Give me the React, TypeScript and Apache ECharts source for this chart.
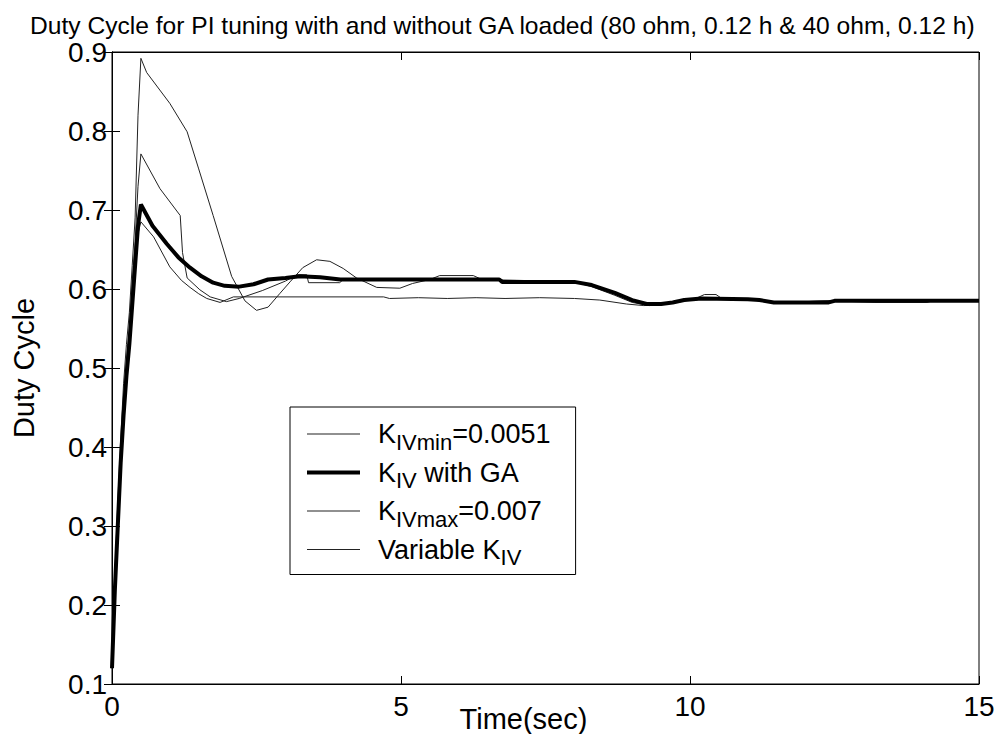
import React, { useEffect, useRef } from "react";
import * as echarts from "echarts";

const titleText =
  "Duty Cycle for PI tuning with and without GA loaded (80 ohm, 0.12 h & 40 ohm, 0.12 h)";
const xName = "Time(sec)";
const yName = "Duty Cycle";

const seriesNames = ["KIVmin=0.0051", "KIV with GA", "KIVmax=0.007", "Variable KIV"];
const legendRich: Record<string, string> = {
  "KIVmin=0.0051": "{m|K}{s|IVmin}{m|=0.0051}",
  "KIV with GA": "{m|K}{s|IV}{m| with GA}",
  "KIVmax=0.007": "{m|K}{s|IVmax}{m|=0.007}",
  "Variable KIV": "{m|Variable K}{s|IV}",
};

// [time (s), duty cycle]
const kMinPoints: [number, number][] = [
  [0, 0.12], [0.02, 0.16], [0.05, 0.22], [0.1, 0.3], [0.15, 0.38], [0.2, 0.44],
  [0.25, 0.49], [0.3, 0.53], [0.35, 0.58], [0.4, 0.63], [0.45, 0.67], [0.5, 0.685],
  [0.72, 0.666], [1.0, 0.628], [1.2, 0.611], [1.35, 0.602], [1.5, 0.594], [1.64, 0.588],
  [1.87, 0.583], [2.1, 0.59], [4.7, 0.59], [4.8, 0.588], [5.3, 0.589], [5.8, 0.588],
  [6.3, 0.589], [6.8, 0.588], [7.4, 0.589], [8.0, 0.588], [8.44, 0.586], [8.9, 0.581],
  [9.2, 0.579], [9.5, 0.58], [9.8, 0.584], [10.2, 0.588], [11.0, 0.587], [11.45, 0.583],
  [12.5, 0.585], [15, 0.585],
];

const gaPoints: [number, number][] = [
  [0, 0.12], [0.02, 0.16], [0.05, 0.22], [0.1, 0.3], [0.15, 0.38], [0.2, 0.44],
  [0.25, 0.49], [0.3, 0.53], [0.35, 0.58], [0.4, 0.63], [0.45, 0.68], [0.5, 0.707],
  [0.7, 0.68], [0.95, 0.657], [1.15, 0.64], [1.35, 0.627], [1.55, 0.616], [1.75, 0.608],
  [1.95, 0.604], [2.2, 0.603], [2.45, 0.606], [2.7, 0.612], [3.0, 0.614], [3.25, 0.616],
  [3.6, 0.615], [3.95, 0.612], [5.0, 0.612], [6.0, 0.612], [6.7, 0.612], [6.75, 0.609],
  [8.0, 0.609], [8.3, 0.605], [8.7, 0.595], [9.0, 0.586], [9.25, 0.581], [9.5, 0.581],
  [9.7, 0.583], [9.9, 0.586], [10.2, 0.588], [11.0, 0.587], [11.2, 0.586], [11.45, 0.583],
  [12.4, 0.583], [12.5, 0.585], [15, 0.585],
];

const kMaxPoints: [number, number][] = [
  [0, 0.12], [0.02, 0.17], [0.05, 0.24], [0.1, 0.33], [0.15, 0.41], [0.2, 0.48],
  [0.25, 0.53], [0.3, 0.57], [0.35, 0.63], [0.4, 0.69], [0.45, 0.82], [0.5, 0.892],
  [0.6, 0.874], [1.0, 0.835], [1.3, 0.799], [1.5, 0.752], [1.75, 0.693], [2.07, 0.616],
  [2.3, 0.585], [2.5, 0.573], [2.7, 0.577], [2.9, 0.594], [3.08, 0.609], [3.3, 0.627],
  [3.54, 0.637], [3.77, 0.635], [4.0, 0.626], [4.23, 0.614], [4.58, 0.602], [4.98, 0.601],
  [5.2, 0.607], [5.5, 0.612], [5.67, 0.617], [6.25, 0.617], [6.4, 0.612], [7.0, 0.611],
  [8.0, 0.609], [8.3, 0.603], [8.7, 0.592], [9.0, 0.583], [9.3, 0.579], [9.7, 0.583],
  [10.1, 0.588], [10.25, 0.593], [10.45, 0.593], [10.55, 0.588], [11.0, 0.587],
  [11.4, 0.583], [12.5, 0.585], [13.2, 0.583], [14.1, 0.583], [14.2, 0.585], [15, 0.585],
];

const variablePoints: [number, number][] = [
  [0, 0.12], [0.02, 0.17], [0.05, 0.23], [0.1, 0.31], [0.15, 0.39], [0.2, 0.46],
  [0.25, 0.51], [0.3, 0.55], [0.35, 0.61], [0.4, 0.66], [0.45, 0.73], [0.5, 0.771],
  [0.83, 0.727], [1.18, 0.693], [1.22, 0.646], [1.3, 0.614], [1.52, 0.599], [1.7, 0.59],
  [1.98, 0.584], [2.2, 0.588], [2.6, 0.598], [3.0, 0.61], [3.2, 0.618], [3.37, 0.618],
  [3.4, 0.608], [3.94, 0.608], [4.0, 0.612], [6.7, 0.612], [6.75, 0.609], [8.0, 0.609],
  [8.3, 0.604], [8.7, 0.594], [9.0, 0.585], [9.25, 0.581], [9.5, 0.581], [9.7, 0.583],
  [9.9, 0.586], [10.2, 0.588], [11.0, 0.587], [11.45, 0.583], [12.5, 0.585], [15, 0.585],
];

const xMin = 0;
const xMax = 15;
const xInterval = 5;
const yMin = 0.1;
const yMax = 0.9;
const yInterval = 0.1;

const FONT = "'Liberation Sans', Arial, Helvetica, sans-serif";
const THIN_ICON = "path://M0,0h53v1h-53z";
const THICK_ICON = "path://M0,0h53v4h-53z";

export default function App() {
  const ref = useRef<HTMLDivElement>(null);

  useEffect(() => {
    if (!ref.current) return;
    const chart = echarts.init(ref.current, undefined, { renderer: "svg" });

    const thinColor = "#222";
    const mkSeries = (name: string, data: [number, number][], color: string, width: number, z: number) => ({
      name,
      type: "line",
      data,
      showSymbol: false,
      symbol: "none",
      lineStyle: { color, width },
      itemStyle: { color },
      z,
      silent: true,
    });

    const axisCommon = {
      axisLine: { show: true, lineStyle: { color: "#000", width: 1 } },
      axisTick: { show: true, inside: true, length: 8, lineStyle: { color: "#000", width: 1 } },
      splitLine: { show: false },
    };

    chart.setOption({
      animation: false,
      backgroundColor: "#fff",
      textStyle: { fontFamily: FONT },
      title: {
        text: titleText,
        left: 25,
        top: 8,
        textStyle: { fontFamily: FONT, fontSize: 24.6, fontWeight: "normal", color: "#000" },
      },
      grid: {
        left: 112,
        right: 19,
        top: 52,
        bottom: 50,
        outerBoundsMode: "none",
        containLabel: false,
        show: true,
        borderColor: "#000",
        borderWidth: 1,
        backgroundColor: "#fff",
      },
      legend: {
        data: seriesNames.map((n, i) => ({ name: n, icon: i === 1 ? THICK_ICON : THIN_ICON })),
        orient: "vertical",
        left: 290,
        top: 407,
        itemWidth: 53,
        itemHeight: 14,
        itemGap: 0.5,
        symbolKeepAspect: true,
        padding: [8, 25, 6, 17],
        backgroundColor: "#fff",
        borderColor: "#000",
        borderWidth: 1,
        borderRadius: 0,
        selectedMode: false,
        formatter: (name: string) => legendRich[name] || name,
        textStyle: {
          padding: [0, 0, 0, 13],
          lineHeight: 38,
          rich: {
            m: { fontSize: 27, fontFamily: FONT, color: "#000", lineHeight: 38 },
            s: { fontSize: 22, fontFamily: FONT, color: "#000", lineHeight: 14, verticalAlign: "bottom" },
          },
        },
      },
      xAxis: [
        {
          type: "value",
          min: xMin,
          max: xMax,
          interval: xInterval,
          position: "bottom",
          name: xName,
          nameLocation: "middle",
          nameGap: 20,
          nameMoveOverlap: false,
          nameTextStyle: { fontSize: 29, color: "#000", fontFamily: FONT, padding: [0, 44, 0, 0] },
          axisLabel: { fontSize: 28, color: "#000", margin: 8, fontFamily: FONT },
          ...axisCommon,
        },
        {
          type: "value",
          min: xMin,
          max: xMax,
          interval: xInterval,
          position: "top",
          axisLabel: { show: false },
          ...axisCommon,
        },
      ],
      yAxis: [
        {
          type: "value",
          min: yMin,
          max: yMax,
          interval: yInterval,
          position: "left",
          name: yName,
          nameLocation: "middle",
          nameGap: 74,
          nameMoveOverlap: false,
          nameTextStyle: { fontSize: 29, color: "#000", fontFamily: FONT },
          axisLabel: {
            fontSize: 28,
            color: "#000",
            margin: 5,
            fontFamily: FONT,
            formatter: (v: number) => v.toFixed(1),
          },
          ...axisCommon,
        },
        {
          type: "value",
          min: yMin,
          max: yMax,
          interval: yInterval,
          position: "right",
          axisLabel: { show: false },
          ...axisCommon,
        },
      ],
      series: [
        mkSeries(seriesNames[0], kMinPoints, thinColor, 1, 2),
        mkSeries(seriesNames[2], kMaxPoints, thinColor, 1, 2),
        mkSeries(seriesNames[3], variablePoints, thinColor, 1, 2),
        mkSeries(seriesNames[1], gaPoints, "#000", 4, 3),
      ],
    });

    return () => chart.dispose();
  }, []);

  return <div ref={ref} style={{ width: 998, height: 734, position: "absolute", left: 0, top: 0 }} />;
}
